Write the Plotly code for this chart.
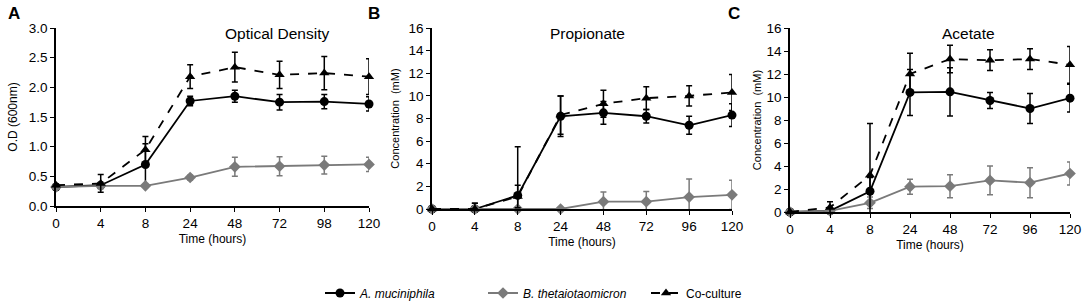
import plotly.graph_objects as go

# ---- data ----
labels_A = ["0", "4", "8", "24", "48", "72", "98", "120"]
labels_BC = ["0", "4", "8", "24", "48", "72", "96", "120"]

od_am = [0.32, 0.35, 0.70, 1.77, 1.85, 1.75, 1.76, 1.72]
od_am_err = [0.03, 0.04, 0.35, 0.08, 0.10, 0.13, 0.12, 0.12]
od_bt = [0.32, 0.34, 0.34, 0.48, 0.66, 0.67, 0.69, 0.70]
od_bt_err = [0.03, 0.05, 0.02, 0.04, 0.16, 0.16, 0.15, 0.12]
od_co = [0.35, 0.38, 0.95, 2.18, 2.34, 2.21, 2.24, 2.18]
od_co_err = [0.02, 0.15, 0.22, 0.20, 0.25, 0.23, 0.28, 0.30]

pr_am = [0, 0, 1.2, 8.2, 8.5, 8.2, 7.4, 8.3]
pr_am_err = [0, 0.5, 4.3, 1.8, 1.0, 0.6, 0.8, 1.0]
pr_bt = [0, 0, 0, 0, 0.65, 0.65, 1.05, 1.25]
pr_bt_err = [0, 0, 0, 0, 0.85, 0.9, 1.6, 1.3]
pr_co = [0, 0, 1.1, 8.3, 9.3, 9.8, 10.0, 10.3]
pr_co_err = [0, 0.5, 1.0, 1.7, 1.2, 1.0, 0.9, 1.6]

ac_am = [0, 0.1, 1.8, 10.4, 10.45, 9.7, 9.0, 9.9]
ac_am_err = [0, 0.1, 1.2, 2.0, 2.1, 0.7, 1.3, 1.2]
ac_bt = [0, 0.1, 0.8, 2.2, 2.25, 2.75, 2.55, 3.35]
ac_bt_err = [0, 0.1, 0.5, 0.65, 1.0, 1.25, 1.3, 1.0]
ac_co = [0, 0.4, 3.2, 12.0, 13.3, 13.2, 13.3, 12.8]
ac_co_err = [0, 0.5, 4.5, 1.8, 1.2, 0.9, 0.9, 1.6]

names = ["<i>A. muciniphila</i>", "<i>B. thetaiotaomicron</i>", "Co-culture"]

BLACK = "#000000"
GRAY = "#7a7a7a"
FONT = "Liberation Sans, Arial, sans-serif"

fig = go.Figure()

panels = [
    ("x", "y", labels_A, [(od_am, od_am_err), (od_bt, od_bt_err), (od_co, od_co_err)]),
    ("x2", "y2", labels_BC, [(pr_am, pr_am_err), (pr_bt, pr_bt_err), (pr_co, pr_co_err)]),
    ("x3", "y3", labels_BC, [(ac_am, ac_am_err), (ac_bt, ac_bt_err), (ac_co, ac_co_err)]),
]

styles = [
    dict(color=BLACK, symbol="circle", size=9, dash="solid"),
    dict(color=GRAY, symbol="diamond", size=9, dash="solid"),
    dict(color=BLACK, symbol="triangle-up", size=9, dash="dash"),
]

for pi, (xa, ya, labs, series) in enumerate(panels):
    idx = list(range(len(labs)))
    for si, (vals, errs) in enumerate(series):
        st = styles[si]
        fig.add_trace(go.Scatter(
            x=idx, y=vals, xaxis=xa, yaxis=ya,
            mode="lines+markers",
            name=names[si], legendgroup=names[si], showlegend=(pi == 0),
            line=dict(color=st["color"], width=1.8, dash=st["dash"]),
            marker=dict(color=st["color"], symbol=st["symbol"], size=st["size"]),
            error_y=dict(type="data", array=errs, visible=True,
                         color=st["color"], thickness=1.5, width=3),
            cliponaxis=False,
        ))

W, H = 1084, 305
def xd(a, b):
    return [a / W, b / W]
def yd(top, bot):
    return [1 - bot / H, 1 - top / H]

axis_common = dict(showline=True, linecolor=BLACK, linewidth=1.5, ticks="outside",
                   ticklen=4, tickcolor=BLACK, showgrid=False, zeroline=False,
                   automargin=False,
                   tickfont=dict(family=FONT, size=13.5, color=BLACK))

def xaxis(dom, labs, anchor):
    return dict(axis_common, domain=dom, anchor=anchor, range=[0, 7],
                tickvals=list(range(len(labs))), ticktext=labs,
                title=dict(text="Time (hours)", font=dict(family=FONT, size=12, color=BLACK), standoff=5))

def yaxis(dom, rng, dt, fmt, title, anchor, tsize, so):
    return dict(axis_common, domain=dom, anchor=anchor, range=rng, dtick=dt, tick0=0,
                tickformat=fmt,
                title=dict(text=title, font=dict(family=FONT, size=tsize, color=BLACK), standoff=so))

fig.update_layout(
    width=W, height=H,
    margin=dict(l=0, r=0, t=0, b=0, autoexpand=False),
    paper_bgcolor="white", plot_bgcolor="white",
    font=dict(family=FONT, color=BLACK),
    xaxis=xaxis(xd(56, 369), labels_A, "y"),
    yaxis=yaxis(yd(28, 206), [0, 3.0], 0.5, ".1f", "O.D (600nm)", "x", 12, 9),
    xaxis2=xaxis(xd(432, 732), labels_BC, "y2"),
    yaxis2=yaxis(yd(28, 209), [0, 16], 2, "d", "Concentration  (mM)", "x2", 11, 7),
    xaxis3=xaxis(xd(790, 1070), labels_BC, "y3"),
    yaxis3=yaxis(yd(28, 212), [0, 16], 2, "d", "Concentration  (mM)", "x3", 11, 3),
    legend=dict(orientation="h", x=320 / W, xanchor="left", y=1 - 293 / H, yanchor="middle",
                font=dict(family=FONT, size=12, color=BLACK),
                itemwidth=30, entrywidth=118, entrywidthmode="pixels",
                tracegroupgap=0),
    showlegend=True,
)

ann = [
    dict(text="<b>A</b>", x=6 / W, y=1 - 14 / H),
    dict(text="<b>B</b>", x=366 / W, y=1 - 14 / H),
    dict(text="<b>C</b>", x=726 / W, y=1 - 14 / H),
]
for a in ann:
    fig.add_annotation(text=a["text"], x=a["x"], y=a["y"], xref="paper", yref="paper",
                       xanchor="left", yanchor="middle", showarrow=False,
                       font=dict(family=FONT, size=17, color=BLACK))

titles = [("Optical Density", 277), ("Propionate", 587), ("Acetate", 968)]
for t, xc in titles:
    fig.add_annotation(text=t, x=xc / W, y=1 - 34 / H, xref="paper", yref="paper",
                       xanchor="center", yanchor="middle", showarrow=False,
                       font=dict(family=FONT, size=15.5, color=BLACK))

fig.write_html("out.html", config={"displayModeBar": False},
               post_script="document.body.style.margin='0';document.body.style.overflow='hidden';")
